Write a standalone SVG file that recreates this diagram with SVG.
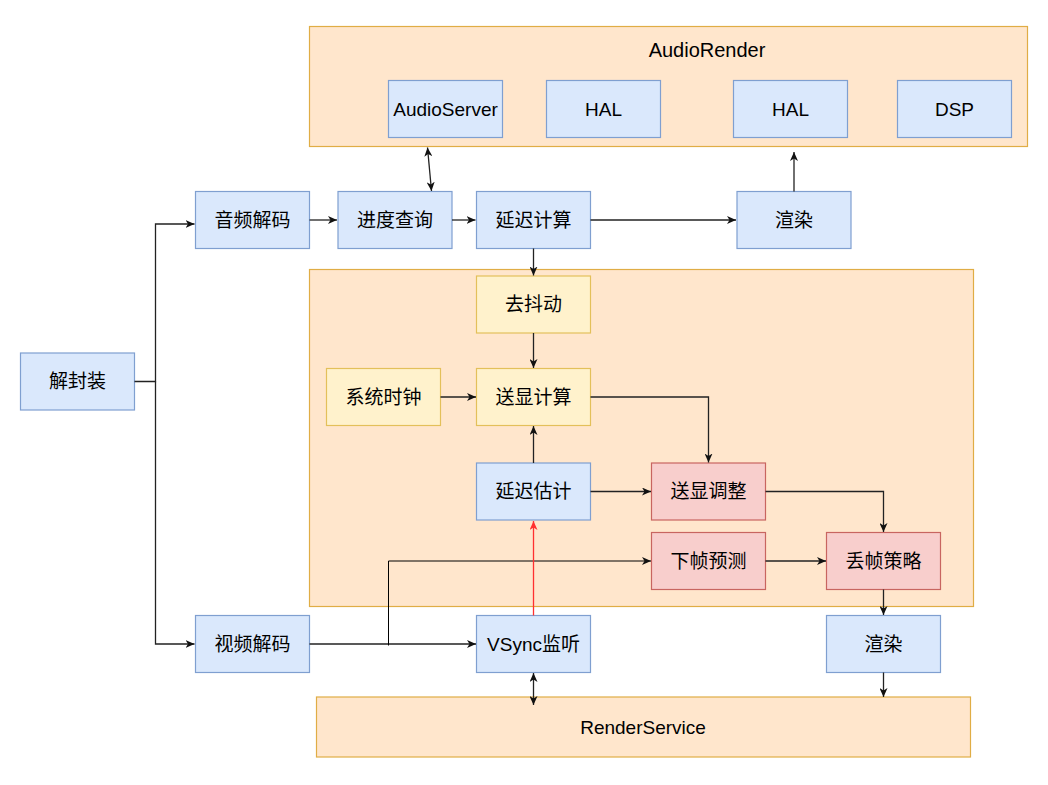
<svg xmlns="http://www.w3.org/2000/svg" width="1048" height="785" viewBox="0 0 1048 785">
<style>
text{font-family:"Liberation Sans","Noto Sans CJK SC",sans-serif;font-size:19px;fill:#000;text-anchor:middle;dominant-baseline:central}
.cont{fill:#ffe6cc;stroke:#e0ad45;stroke-width:1.2}
.blue{fill:#dae8fc;stroke:#7f9fd0;stroke-width:1.2}
.yel{fill:#fff2cc;stroke:#e3c05a;stroke-width:1.2}
.red{fill:#f8cecc;stroke:#c86560;stroke-width:1.2}
.c{fill:none;stroke:#222;stroke-width:1.3}
.thin{fill:none;stroke:#000;stroke-width:1}
.rl{fill:none;stroke:#ff3030;stroke-width:1.3}
</style>
<defs>
<marker id="a" markerUnits="userSpaceOnUse" markerWidth="10" markerHeight="8" refX="9" refY="4" orient="auto-start-reverse" viewBox="0 0 10 8"><path d="M0,0 L9,4 L0,8 L2.5,4 Z" fill="#111"/></marker>
<marker id="ar" markerUnits="userSpaceOnUse" markerWidth="10" markerHeight="8" refX="9" refY="4" orient="auto" viewBox="0 0 10 8"><path d="M0,0 L9,4 L0,8 L2.5,4 Z" fill="#ff3030"/></marker>
</defs>
<rect width="1048" height="785" fill="#fff"/>
<g id="audiorender"><rect class="cont" x="309.5" y="26.5" width="718" height="120"/><text x="707" y="50" style="font-size:20px">AudioRender</text></g>
<g id="inner-container"><rect class="cont" x="309.5" y="269.5" width="664" height="337"/></g>
<g id="renderservice"><rect class="cont" x="316.5" y="697" width="654" height="60"/><text x="643" y="727">RenderService</text></g>
<g id="audioserver"><rect class="blue" x="388.5" y="80.5" width="114" height="57"/><text x="445.5" y="109">AudioServer</text></g>
<g id="hal1"><rect class="blue" x="546.5" y="80.5" width="114" height="57"/><text x="603.5" y="109">HAL</text></g>
<g id="hal2"><rect class="blue" x="733.5" y="80.5" width="114" height="57"/><text x="790.5" y="109">HAL</text></g>
<g id="dsp"><rect class="blue" x="897.5" y="80.5" width="114" height="57"/><text x="954.5" y="109">DSP</text></g>
<g id="audio-decode"><rect class="blue" x="195.5" y="191.5" width="114" height="57"/><text x="252.5" y="220">音频解码</text></g>
<g id="progress-query"><rect class="blue" x="338" y="191.5" width="114" height="57"/><text x="395" y="220">进度查询</text></g>
<g id="delay-calc"><rect class="blue" x="476.5" y="191.5" width="114" height="57"/><text x="533.5" y="220">延迟计算</text></g>
<g id="audio-render-node"><rect class="blue" x="737" y="191.5" width="114" height="57"/><text x="794" y="220">渲染</text></g>
<g id="demux"><rect class="blue" x="20.5" y="353" width="114" height="57"/><text x="77.5" y="381.5">解封装</text></g>
<g id="dejitter"><rect class="yel" x="476.5" y="276" width="114" height="57"/><text x="533.5" y="304.5">去抖动</text></g>
<g id="sys-clock"><rect class="yel" x="326.5" y="368.5" width="114" height="57"/><text x="383.5" y="397">系统时钟</text></g>
<g id="display-calc"><rect class="yel" x="476.5" y="368.5" width="114" height="57"/><text x="533.5" y="397">送显计算</text></g>
<g id="delay-est"><rect class="blue" x="476.5" y="463" width="114" height="57"/><text x="533.5" y="491.5">延迟估计</text></g>
<g id="display-adjust"><rect class="red" x="651.5" y="463" width="114" height="57"/><text x="708.5" y="491.5">送显调整</text></g>
<g id="next-frame"><rect class="red" x="651.5" y="532.5" width="114" height="57"/><text x="708.5" y="561">下帧预测</text></g>
<g id="drop-frame"><rect class="red" x="826.5" y="532.5" width="114" height="57"/><text x="883.5" y="561">丢帧策略</text></g>
<g id="video-decode"><rect class="blue" x="195.5" y="615.5" width="114" height="57"/><text x="252.5" y="644">视频解码</text></g>
<g id="vsync"><rect class="blue" x="476.5" y="615.5" width="114" height="57"/><text x="533.5" y="644">VSync监听</text></g>
<g id="video-render"><rect class="blue" x="826.5" y="615.5" width="114" height="57"/><text x="883.5" y="644">渲染</text></g>
<g id="connectors">
<path class="c" d="M134.5,381.5 H155.5 V224 H194.5" marker-end="url(#a)"/>
<path class="c" d="M155.5,381.5 V644 H194.5" marker-end="url(#a)"/>
<path class="c" d="M309.5,220 H337" marker-end="url(#a)"/>
<path class="c" d="M452,220 H475.5" marker-end="url(#a)"/>
<path class="c" d="M590.5,220 H736" marker-end="url(#a)"/>
<path class="c" d="M427.5,147.5 L431.5,191" marker-start="url(#a)" marker-end="url(#a)"/>
<path class="c" d="M794,191.5 V152" marker-end="url(#a)"/>
<path class="c" d="M533.5,248.5 V275.5" marker-end="url(#a)"/>
<path class="c" d="M533.5,333 V368" marker-end="url(#a)"/>
<path class="c" d="M440.5,397 H476" marker-end="url(#a)"/>
<path class="c" d="M590.5,397 H708.5 V462.5" marker-end="url(#a)"/>
<path class="c" d="M533.5,463 V426" marker-end="url(#a)"/>
<path class="c" d="M590.5,491.5 H651" marker-end="url(#a)"/>
<path class="c" d="M765.5,491.5 H883.5 V532" marker-end="url(#a)"/>
<path class="c" d="M765.5,561 H826" marker-end="url(#a)"/>
<path class="c" d="M309.5,644 H476" marker-end="url(#a)"/>
<path class="thin" d="M388.5,645.5 V561 H651" marker-end="url(#a)"/>
<path class="rl" d="M533.5,615.5 V521" marker-end="url(#ar)"/>
<path class="c" d="M883.5,589.5 V615" marker-end="url(#a)"/>
<path class="c" d="M533.5,673 V705" marker-start="url(#a)" marker-end="url(#a)"/>
<path class="c" d="M883.5,672.5 V697" marker-end="url(#a)"/>
</g>
</svg>
